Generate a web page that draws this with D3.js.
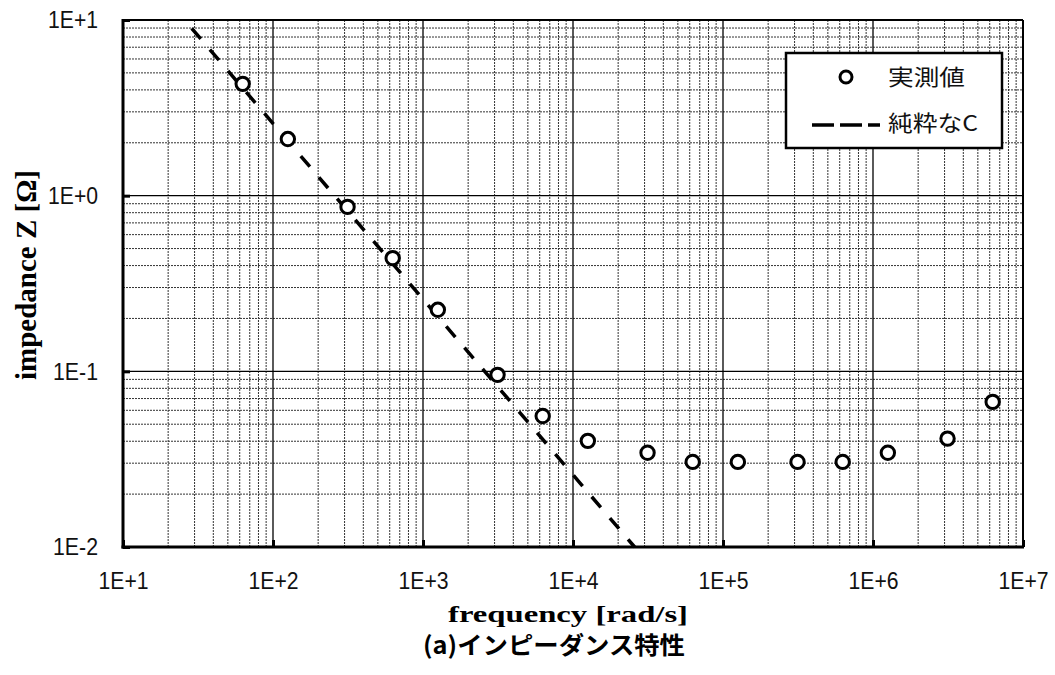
<!DOCTYPE html>
<html><head><meta charset="utf-8">
<script src="https://cdn.jsdelivr.net/npm/d3@7"></script>
<style>body{margin:0;background:#fff}</style>
</head><body>
<svg id="c" width="1055" height="675"></svg>
<script>
// data
const freq = [62.8, 125.6, 314, 628, 1256, 3140, 6280, 12560, 31400, 62800, 125600, 314000, 628000, 1256000, 3140000, 6280000];
const measured = [4.33, 2.10, 0.863, 0.441, 0.224, 0.0955, 0.0557, 0.0402, 0.0344, 0.0305, 0.0305, 0.0305, 0.0305, 0.0344, 0.0414, 0.0670];
const pureCFreq = [28.7, 25750];
const pureCZ = [8.97, 0.0100];
const xTicks = [1e1, 1e2, 1e3, 1e4, 1e5, 1e6, 1e7];
const xTickLabels = ["1E+1", "1E+2", "1E+3", "1E+4", "1E+5", "1E+6", "1E+7"];
const yTicks = [1e-2, 1e-1, 1e0, 1e1];
const yTickLabels = ["1E-2", "1E-1", "1E+0", "1E+1"];
const legendLabels = ["実測値", "純粋なC"];

const L = 123, R = 1023, T = 20, B = 547;
const svg = d3.select("#c");
const x = d3.scaleLog().domain([1e1, 1e7]).range([L, R]);
const y = d3.scaleLog().domain([1e-2, 1e1]).range([B, T]);

// minor grid
const minorX = [], minorY = [];
for (let e = 1; e < 7; e++) for (let m = 2; m <= 9; m++) minorX.push(m * Math.pow(10, e));
for (let e = -2; e < 1; e++) for (let m = 2; m <= 9; m++) minorY.push(m * Math.pow(10, e));
const g = svg.append("g");
g.selectAll(".mx").data(minorX).enter().append("line")
  .attr("x1", d => x(d)).attr("x2", d => x(d)).attr("y1", T).attr("y2", B)
  .attr("stroke", "#333").attr("stroke-width", 1).attr("stroke-dasharray", "2,1");
g.selectAll(".my").data(minorY).enter().append("line")
  .attr("y1", d => y(d)).attr("y2", d => y(d)).attr("x1", L).attr("x2", R)
  .attr("stroke", "#333").attr("stroke-width", 1).attr("stroke-dasharray", "2,1");
// major grid
g.selectAll(".Mx").data(xTicks.slice(1, -1)).enter().append("line")
  .attr("x1", d => x(d)).attr("x2", d => x(d)).attr("y1", T).attr("y2", B)
  .attr("stroke", "#000").attr("stroke-width", 1.3);
g.selectAll(".My").data(yTicks.slice(1, -1)).enter().append("line")
  .attr("y1", d => y(d)).attr("y2", d => y(d)).attr("x1", L).attr("x2", R)
  .attr("stroke", "#000").attr("stroke-width", 1.3);

// axes (ticks inside)
const fmtX = d => xTickLabels[xTicks.indexOf(d)];
const fmtY = d => yTickLabels[yTicks.indexOf(d)];
const xAxis = svg.append("g").attr("transform", `translate(0,${B})`)
  .call(d3.axisBottom(x).tickValues(xTicks).tickFormat(fmtX).tickSize(-7).tickPadding(25));
const yAxis = svg.append("g").attr("transform", `translate(${L},0)`)
  .call(d3.axisLeft(y).tickValues(yTicks).tickFormat(fmtY).tickSize(-7).tickPadding(25));
[xAxis, yAxis].forEach(a => {
  a.select(".domain").remove();
  a.selectAll(".tick line").attr("stroke", "#000").attr("stroke-width", 3);
  a.selectAll("text").attr("font-family", "'Liberation Sans',Arial,sans-serif")
    .attr("font-size", 24).attr("fill", "#111")
    .attr("textLength", d => (xTicks.indexOf(d) >= 0 && x.domain && a === xAxis ? fmtX(d) : fmtY(d)).indexOf("-") >= 0 ? 45 : 50)
    .attr("lengthAdjust", "spacingAndGlyphs");
});
// frame
svg.append("line").attr("x1", L).attr("x2", R).attr("y1", T).attr("y2", T).attr("stroke", "#000").attr("stroke-width", 2);
svg.append("line").attr("x1", R).attr("x2", R).attr("y1", T).attr("y2", B).attr("stroke", "#000").attr("stroke-width", 2);
svg.append("line").attr("x1", L).attr("x2", L).attr("y1", T - 1).attr("y2", B + 1.5).attr("stroke", "#000").attr("stroke-width", 3);
svg.append("line").attr("x1", L - 1.5).attr("x2", R + 1).attr("y1", B).attr("y2", B).attr("stroke", "#000").attr("stroke-width", 3);

// pure C dashed line
const line = d3.line().x(d => x(d[0])).y(d => y(d[1]));
svg.append("path").datum(pureCFreq.map((f, i) => [f, pureCZ[i]]))
  .attr("d", line).attr("fill", "none").attr("stroke", "#000")
  .attr("stroke-width", 3.5).attr("stroke-dasharray", "14,14");

// measured points
svg.selectAll(".pt").data(freq.map((f, i) => [f, measured[i]])).enter().append("circle")
  .attr("cx", d => x(d[0])).attr("cy", d => y(d[1])).attr("r", 6.7)
  .attr("fill", "#fff").attr("stroke", "#000").attr("stroke-width", 3);

// legend
const lg = svg.append("g");
lg.append("rect").attr("x", 786).attr("y", 53).attr("width", 216).attr("height", 95)
  .attr("fill", "#fff").attr("stroke", "#000").attr("stroke-width", 2.5);
lg.append("circle").attr("cx", 846).attr("cy", 77).attr("r", 6).attr("fill", "#fff").attr("stroke", "#000").attr("stroke-width", 3);
lg.append("line").attr("x1", 812).attr("x2", 880).attr("y1", 125).attr("y2", 125)
  .attr("stroke", "#000").attr("stroke-width", 3.5).attr("stroke-dasharray", "22,6");
lg.selectAll("text").data(legendLabels).enter().append("text")
  .attr("x", 888).attr("y", (d, i) => i === 0 ? 85 : 131)
  .attr("font-family", "'Noto Sans CJK JP',sans-serif").attr("font-size", 22).attr("fill", "#111")
  .attr("textLength", (d, i) => i === 0 ? 77 : 90).attr("lengthAdjust", "spacingAndGlyphs")
  .text(d => d);

// axis titles
svg.append("text").attr("x", 568).attr("y", 622).attr("text-anchor", "middle")
  .attr("font-family", "'Liberation Serif',serif").attr("font-weight", "bold").attr("font-size", 24)
  .attr("textLength", 240).attr("lengthAdjust", "spacingAndGlyphs")
  .text("frequency [rad/s]");
svg.append("text").attr("transform", "translate(36,275) rotate(-90)").attr("text-anchor", "middle")
  .attr("font-family", "'Liberation Serif',serif").attr("font-weight", "bold").attr("font-size", 30)
  .attr("textLength", 210).attr("lengthAdjust", "spacingAndGlyphs")
  .text("impedance Z [Ω]");
svg.append("text").attr("x", 554).attr("y", 654).attr("text-anchor", "middle")
  .attr("font-family", "'Noto Sans CJK JP',sans-serif").attr("font-weight", "bold").attr("font-size", 24)
  .attr("textLength", 262).attr("lengthAdjust", "spacingAndGlyphs")
  .text("(a)インピーダンス特性");
</script>
</body></html>
